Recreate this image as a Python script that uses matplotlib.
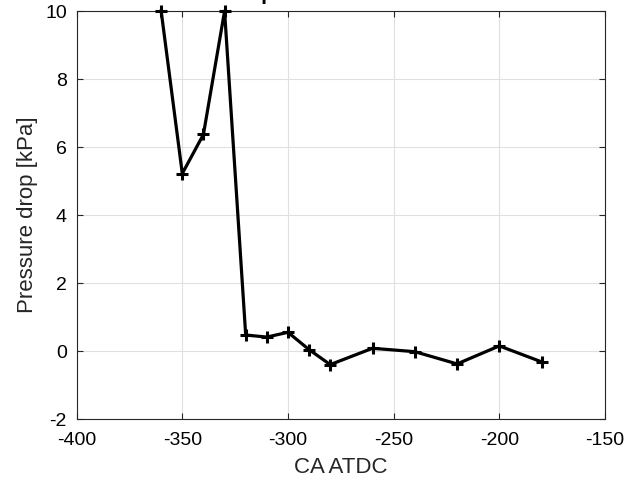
import matplotlib
matplotlib.use('Agg')
import matplotlib.pyplot as plt

# crank angle vs pressure drop
ca = [-360, -350, -340, -330, -320, -310, -300, -290, -280, -260, -240, -220, -200, -180]
dp = [10.0, 5.22, 6.37, 10.0, 0.47, 0.41, 0.55, 0.04, -0.40, 0.08, -0.02, -0.38, 0.15, -0.32]

plt.rcParams['font.family'] = ['Liberation Sans', 'DejaVu Sans']
plt.rcParams['axes.unicode_minus'] = False

fig = plt.figure(figsize=(6.39, 4.83), dpi=100)
ax = fig.add_axes([0.1199, 0.1325, 0.8269, 0.8447])
ax.plot(ca, dp, color='black', lw=2.3, marker='+', ms=9, mew=2.2, clip_on=False, zorder=3)

ax.set_xlim(-400, -150)
ax.set_ylim(-2, 10)
ax.set_xticks(range(-400, -149, 50))
ax.set_yticks(range(-2, 11, 2))
ax.grid(True, color='#e0e0e0', lw=0.8)
ax.set_axisbelow(True)
ax.tick_params(direction='in', labelsize=14, length=4, top=True, right=True,
               color='#262626', labelcolor='black')
ax.tick_params(axis='x', pad=9)
ax.tick_params(axis='y', pad=7)
for s in ax.spines.values():
    s.set_color('#262626')
    s.set_linewidth(0.8)
ax.set_xlabel('CA ATDC', fontsize=16, color='#262626', labelpad=6)
ax.set_ylabel('Pressure drop [kPa]', fontsize=16, color='#262626', labelpad=5)

# title sits mostly above the top edge of the figure
fig.text(0.49, 1 - 0.5 / 483, 'Pressure drop at the intake manifold', fontsize=15,
         fontweight='bold', ha='center', va='baseline')

fig.savefig('out.png', dpi=100)
